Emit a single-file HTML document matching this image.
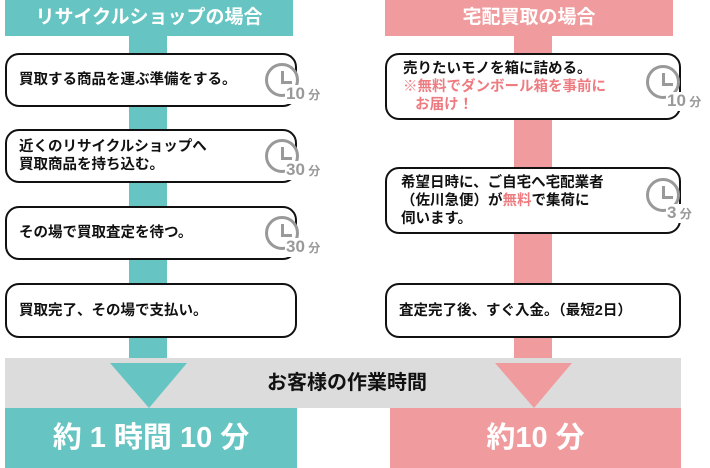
<!DOCTYPE html><html><head><meta charset="utf-8"><style>
body{margin:0;width:710px;height:468px;position:relative;background:#fff;font-family:"Liberation Sans","Noto Sans CJK JP",sans-serif;font-weight:bold;overflow:hidden}
div{position:absolute;box-sizing:border-box}
.hd{top:0;height:36px;color:#fff;font-size:19px;text-align:center;line-height:36px}
.box{background:#fff;border:2.5px solid #111;border-radius:14px;font-size:14.5px;color:#111;line-height:18px;display:flex;align-items:center;padding-left:12px}
.box>span{display:block;white-space:nowrap}
.clk{width:34px;height:34px;border:3px solid #999;border-radius:50%;background:#fff}
.clk:before{content:"";position:absolute;left:13px;top:5px;width:8px;height:10px;border-left:3px solid #999;border-bottom:3px solid #999}
.ct{color:#999;font-size:17px;background:#fff;line-height:17px;padding-left:1px}
.ct small{font-size:12px}
.pk{color:#ee7b80}
</style></head><body>
<div class="hd" style="left:5px;width:288px;background:#66c5c2">リサイクルショップの場合</div>
<div class="hd" style="left:385px;width:288px;background:#f09b9e">宅配買取の場合</div>
<div style="left:129px;top:36px;width:38px;height:330px;background:#66c5c2"></div>
<div style="left:514px;top:36px;width:38px;height:330px;background:#f09b9e"></div>
<div style="left:5px;top:358px;width:676px;height:50px;background:#dcdcdc;font-size:20px;color:#111;text-align:center;line-height:50px;padding-left:8px">お客様の作業時間</div>
<svg style="position:absolute;left:0;top:0" width="710" height="468"><polygon points="110,363 187,363 149,408" fill="#66c5c2"/><polygon points="495,363 572,363 534,408" fill="#f09b9e"/></svg>
<div style="left:5px;top:408px;width:292px;height:60px;background:#66c5c2;color:#fff;font-size:29px;text-align:center;line-height:60px">約 1 時間 10 分</div>
<div style="left:390px;top:408px;width:291px;height:60px;background:#f09b9e;color:#fff;font-size:29px;text-align:center;line-height:60px">約10 分</div>

<div class="box" style="left:5px;top:53px;width:292px;height:54px"><span>買取する商品を運ぶ準備をする。</span></div>
<div class="box" style="left:5px;top:129px;width:292px;height:54px"><span>近くのリサイクルショップへ<br>買取商品を持ち込む。</span></div>
<div class="box" style="left:5px;top:206px;width:292px;height:54px"><span>その場で買取査定を待つ。</span></div>
<div class="box" style="left:5px;top:283px;width:292px;height:55px"><span>買取完了、その場で支払い。</span></div>
<div class="box" style="left:385px;top:53px;width:296px;height:67px;padding-left:16px"><span>売りたいモノを箱に詰める。<br><span class="pk">※無料でダンボール箱を事前に<br>&nbsp;&nbsp;&nbsp;お届け！</span></span></div>
<div class="box" style="left:385px;top:167px;width:296px;height:67px;padding-left:14px"><span>希望日時に、ご自宅へ宅配業者<br>（佐川急便）が<span class="pk">無料</span>で集荷に<br>伺います。</span></div>
<div class="box" style="left:385px;top:283px;width:296px;height:55px;padding-left:12px"><span>査定完了後、すぐ入金。（最短2日）</span></div>

<div class="clk" style="left:265px;top:63px"></div><div class="ct" style="left:285px;top:85px">10<small> 分</small></div>
<div class="clk" style="left:265px;top:139px"></div><div class="ct" style="left:285px;top:161px">30<small> 分</small></div>
<div class="clk" style="left:265px;top:216px"></div><div class="ct" style="left:285px;top:238px">30<small> 分</small></div>
<div class="clk" style="left:646px;top:65px"></div><div class="ct" style="left:666px;top:92px">10<small> 分</small></div>
<div class="clk" style="left:646px;top:178px"></div><div class="ct" style="left:666px;top:204px">3<small> 分</small></div>
</body></html>
